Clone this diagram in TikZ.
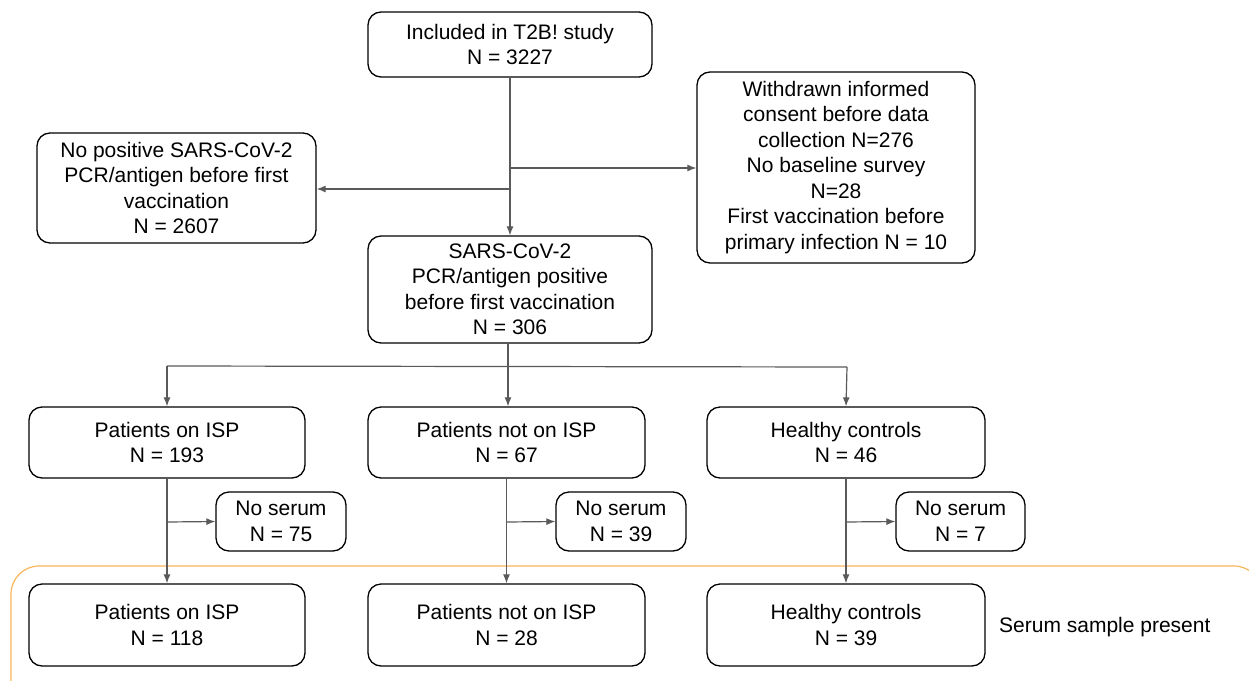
\documentclass[tikz,border=0pt]{standalone}
\usepackage{fontspec}
\setmainfont{Liberation Sans}
\usetikzlibrary{arrows.meta}
\definecolor{linegray}{RGB}{90,90,90}
\definecolor{serumorange}{RGB}{250,182,90}
\begin{document}
\begin{tikzpicture}[x=1pt,y=-1pt,
  box/.style={draw=black,line width=1.3pt,rounded corners=13pt,align=center,
    inner sep=0pt,font=\fontsize{21}{25.5}\selectfont},
  arr/.style={draw=linegray,line width=1.2pt,-{Latex[length=9pt,width=7pt]}},
  ln/.style={draw=linegray,line width=1.2pt}]
\useasboundingbox (0,0) rectangle (1249,680);
\fill[white] (0,0) rectangle (1249,680);
% orange frame
\begin{scope}
\clip (0,0) rectangle (1249,680);
\draw[serumorange,line width=1.2pt,rounded corners=28pt] (11,566) rectangle (1262,730);
\end{scope}
% nodes
\node[box,minimum width=284pt,minimum height=65pt] (top) at (510,44.5) {Included in T2B! study\\N = 3227};
\node[box,minimum width=278pt,minimum height=191pt] (wd) at (836,167.5) {Withdrawn informed\\consent before data\\collection N=276\\No baseline survey\\N=28\\First vaccination before\\primary infection N = 10};
\node[box,minimum width=279pt,minimum height=110pt] (nopos) at (176.5,188) {No positive SARS-CoV-2\\PCR/antigen before first\\vaccination\\N = 2607};
\node[box,minimum width=284pt,minimum height=107pt] (sars) at (510,289.5) {SARS-CoV-2\\PCR/antigen positive\\before first vaccination\\N = 306};
\node[box,minimum width=276pt,minimum height=71pt] (p1) at (167,442.5) {Patients on ISP\\N = 193};
\node[box,minimum width=277pt,minimum height=71pt] (p2) at (506.5,442.5) {Patients not on ISP\\N = 67};
\node[box,minimum width=278pt,minimum height=71pt] (p3) at (846,442.5) {Healthy controls\\N = 46};
\node[box,minimum width=130pt,minimum height=59pt] (ns1) at (281,521.5) {No serum\\N = 75};
\node[box,minimum width=130pt,minimum height=59pt] (ns2) at (621,521.5) {No serum\\N = 39};
\node[box,minimum width=129pt,minimum height=59pt] (ns3) at (960.5,521.5) {No serum\\N = 7};
\node[box,minimum width=276pt,minimum height=82pt] (q1) at (167,625) {Patients on ISP\\N = 118};
\node[box,minimum width=277pt,minimum height=82pt] (q2) at (506.5,625) {Patients not on ISP\\N = 28};
\node[box,minimum width=278pt,minimum height=82pt] (q3) at (846,625) {Healthy controls\\N = 39};
\node[font=\fontsize{21}{25.5}\selectfont,anchor=west,inner sep=0pt] (lbl) at (999,627) {Serum sample present};
% connectors
\draw[arr] (top.south) -- (sars.north);
\coordinate (bl) at (510,189);
\coordinate (br) at (510,168);
\draw[arr] (bl) -- (bl -| nopos.east);
\draw[arr] (br) -- (br -| wd.west);
\coordinate (sp) at (508,366);
\coordinate (spl) at (167,366);
\coordinate (spr) at (847,367);
\draw[ln] (sars.south -| sp) -- (sp);
\draw[ln] (spl) -- (spr);
\draw[arr] (spl) -- (p1.north);
\draw[arr] (sp) -- (sp |- p2.north);
\draw[arr] (spr) -- (p3.north);
\draw[arr] (p1.south) -- (q1.north);
\draw[arr] (p2.south) -- (q2.north);
\draw[arr] (p3.south) -- (q3.north);
\coordinate (b1) at (167,522);
\coordinate (b2) at (506.5,522);
\coordinate (b3) at (846,522);
\draw[arr] (b1) -- (ns1.west);
\draw[arr] (b2) -- (ns2.west);
\draw[arr] (b3) -- (ns3.west);
\end{tikzpicture}
\end{document}
